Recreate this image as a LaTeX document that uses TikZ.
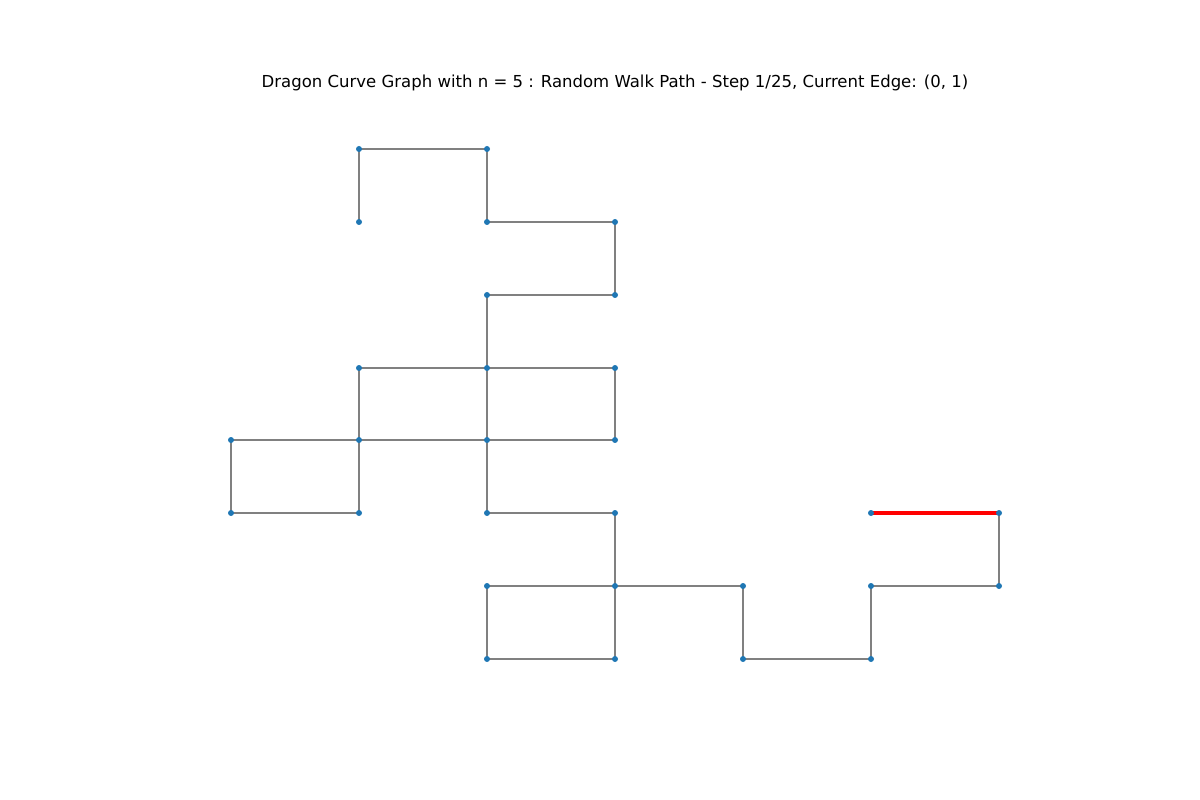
\documentclass[tikz,border=0pt]{standalone}
\usepackage{fontspec}
\setmainfont{DejaVu Sans}
\begin{document}
\begin{tikzpicture}[x=0.02cm,y=-0.02cm,
  vtx/.style={circle,fill={rgb,255:red,31;green,119;blue,180},inner sep=0pt,minimum size=0.12cm},
  edg/.style={draw={rgb,255:red,128;green,128;blue,128},line width=0.7pt},
  cur/.style={draw=red,line width=2.1pt}]
\useasboundingbox (0,0) rectangle (1200,800);
\node[font=\fontsize{9.4}{11}\selectfont] (title) at (615,83) {Dragon Curve Graph with n = 5 : Random Walk Path - Step 1/25, Current Edge: (0, 1)};
% coordinates
\foreach \n/\x/\y in {
 a1/359/149, a2/487/149,
 b1/359/222, b2/487/222, b3/615/222,
 c2/487/295, c3/615/295,
 d1/359/368, d2/487/368, d3/615/368,
 e0/231/440, e1/359/440, e2/487/440, e3/615/440,
 f0/231/513, f1/359/513, f2/487/513, f3/615/513, f5/871/513, f6/999/513,
 g2/487/586, g3/615/586, g4/743/586, g5/871/586, g6/999/586,
 h2/487/659, h3/615/659, h4/743/659, h5/871/659}
 {\coordinate (\n) at (\x,\y);}
\foreach \u/\v in {a1/a2, a1/b1, a2/b2, b2/b3, b3/c3, c2/c3, c2/d2, d1/d2, d2/d3,
  d1/e1, d2/e2, d3/e3, e0/e1, e1/e2, e2/e3, e0/f0, e1/f1, f0/f1, e2/f2, f2/f3,
  f3/g3, g2/g3, g3/g4, g2/h2, g3/h3, h2/h3, g4/h4, h4/h5, g5/h5, g5/g6, f6/g6}
  {\draw[edg] (\u) -- (\v);}
\draw[cur] (f5) -- (f6);
\foreach \n in {a1,a2,b1,b2,b3,c2,c3,d1,d2,d3,e0,e1,e2,e3,f0,f1,f2,f3,f5,f6,g2,g3,g4,g5,g6,h2,h3,h4,h5}
  {\node[vtx] (v\n) at (\n) {};}
\end{tikzpicture}
\end{document}
